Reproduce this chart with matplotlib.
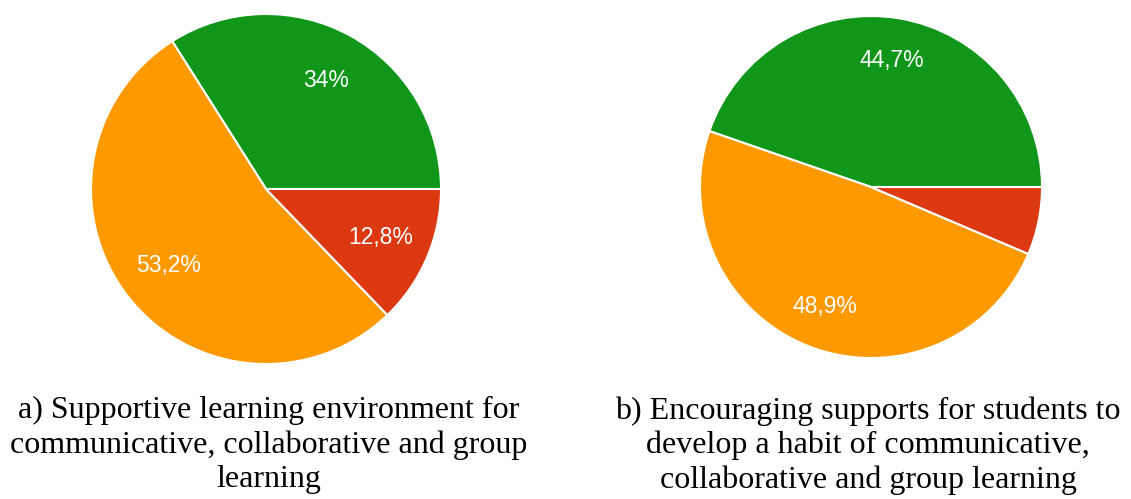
import matplotlib
matplotlib.use("Agg")
import matplotlib.pyplot as plt

categories = ["Green", "Orange", "Red"]
values_a = [34.0, 53.2, 12.8]
values_b = [44.7, 48.9, 6.4]
colors = ["#109618", "#FF9900", "#DC3912"]
caption_a = "a) Supportive learning environment for\ncommunicative, collaborative and group\nlearning"
caption_b = "b) Encouraging supports for students to\ndevelop a habit of communicative,\ncollaborative and group learning"

W, H = 1131, 499
fig = plt.figure(figsize=(W / 100, H / 100), dpi=100)
fig.patch.set_facecolor("white")


def fmt(p):
    if p < 8:
        return ""
    s = f"{p:.1f}".rstrip("0").rstrip(".")
    return s.replace(".", ",") + "%"


def draw(vals, cx, cy, r, pctd):
    ax = fig.add_axes([(cx - r) / W, (H - cy - r) / H, 2 * r / W, 2 * r / H])
    wedges, texts, autotexts = ax.pie(
        vals, colors=colors, startangle=0, counterclock=True,
        autopct=fmt, pctdistance=pctd,
        wedgeprops=dict(edgecolor="white", linewidth=1.5),
        textprops=dict(color="white", fontsize=16.5, family="Liberation Sans"),
    )
    ax.set_xlim(-1, 1)
    ax.set_ylim(-1, 1)
    ax.set_aspect("equal")
    ax.axis("off")


draw(values_a, 266, 189, 175, 0.71)
draw(values_b, 871, 187, 171, 0.75)

fig.text(269 / W, 1 - 396 / H, caption_a, ha="center", va="top", multialignment="center",
         fontsize=23, family="Liberation Serif", linespacing=1.23)
fig.text(868 / W, 1 - 396 / H, caption_b, ha="center", va="top", multialignment="center",
         fontsize=23, family="Liberation Serif", linespacing=1.23)

fig.savefig("out.png", dpi=100, facecolor="white")
